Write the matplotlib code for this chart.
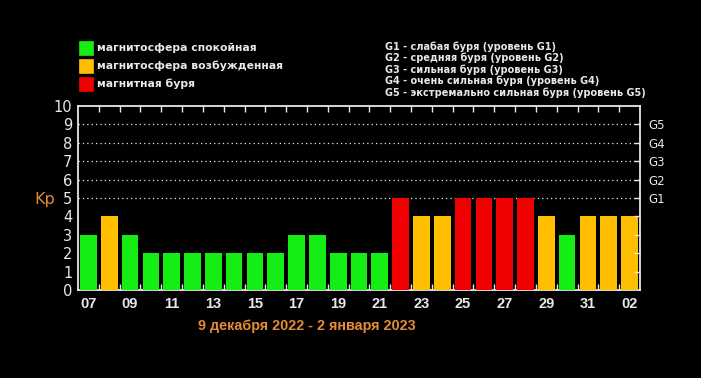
import numpy as np
import matplotlib.pyplot as plt
from matplotlib.patches import Rectangle

# Kp index, 7 Dec 2022 - 2 Jan 2023
days = ['07', '08', '09', '10', '11', '12', '13', '14', '15', '16', '17', '18', '19', '20',
        '21', '22', '23', '24', '25', '26', '27', '28', '29', '30', '31', '01', '02']
kp = [3, 4, 3, 2, 2, 2, 2, 2, 2, 2, 3, 3, 2, 2, 2, 5, 4, 4, 5, 5, 5, 5, 4, 3, 4, 4, 4]

legend_left = ['магнитосфера спокойная', 'магнитосфера возбужденная', 'магнитная буря']
legend_right = ['G1 - слабая буря (уровень G1)',
                'G2 - средняя буря (уровень G2)',
                'G3 - сильная буря (уровень G3)',
                'G4 - очень сильная буря (уровень G4)',
                'G5 - экстремально сильная буря (уровень G5)']
g_labels = ['G1', 'G2', 'G3', 'G4', 'G5']
title = '9 декабря 2022 - 2 января 2023'

green = '#14ee14'
orange = '#ffbf00'
red = '#f00000'
kp_orange = '#e58a35'
white = '#e8e8e8'


def bar_color(v):
    if v >= 5:
        return red
    if v == 4:
        return orange
    return green


fig = plt.figure(figsize=(7.01, 3.78), dpi=100, facecolor='black')
ax = fig.add_axes([78 / 701, 88 / 378, 562 / 701, 184 / 378], facecolor='black')

x = np.arange(len(days))
ax.bar(x, kp, width=0.8, color=[bar_color(v) for v in kp], zorder=3)

ax.set_xlim(-0.5, len(days) - 0.5)
ax.set_ylim(0, 10)

# dotted grid only in the storm zone
for g in range(5, 10):
    ax.axhline(g, color=white, lw=0.9, ls=(0, (1, 2.5)), zorder=1)

for s in ax.spines.values():
    s.set_color(white)
    s.set_linewidth(1.3)

ax.set_xticks(x[::2])
ax.set_xticklabels(days[::2], color=white, fontsize=10.5, fontweight='bold',
                   family='Liberation Sans')
ax.set_xticks(np.arange(0.5, len(days) - 0.5, 1), minor=True)
ax.tick_params(axis='x', which='major', length=0, pad=5)
ax.tick_params(axis='x', which='minor', direction='in', length=4, color=white,
               top=True, bottom=True, width=1)

ax.set_yticks(range(0, 11))
ax.set_yticklabels([str(i) for i in range(11)], color=white, fontsize=10.5,
                   family='DejaVu Sans')
ax.tick_params(axis='y', length=0, pad=4)

ax2 = ax.twinx()
ax2.set_ylim(0, 10)
ax2.set_yticks(range(1, 10))
ax2.set_yticklabels([''] * 4 + g_labels, color=white, fontsize=8.5)
ax2.tick_params(axis='y', direction='in', length=4, color=white, width=1, pad=6)
for s in ax2.spines.values():
    s.set_visible(False)

fig.text(34 / 701, 1 - 199 / 378, 'Kp', color=kp_orange, fontsize=11.5,
         va='center', ha='left')

fig.text(307 / 701, 1 - 326 / 378, title, color=kp_orange, fontsize=10.4,
         fontweight='bold', ha='center', va='center', family='Liberation Sans')

# left legend
for i, (lab, c) in enumerate(zip(legend_left, [green, orange, red])):
    yc = 48 + 18 * i
    fig.patches.append(Rectangle((79 / 701, 1 - (yc + 6.5) / 378), 14 / 701, 13 / 378,
                                 transform=fig.transFigure, facecolor=c,
                                 edgecolor=c, lw=0.5))
    fig.text(97 / 701, 1 - yc / 378, lab, color=white, fontsize=7.85,
             fontweight='bold', va='center', ha='left')

# right legend
for i, lab in enumerate(legend_right):
    yc = 46.5 + 11.5 * i
    fig.text(385 / 701, 1 - yc / 378, lab, color=white, fontsize=7.0,
             fontweight='bold', va='center', ha='left')

fig.savefig('out.png', dpi=100, facecolor='black')
